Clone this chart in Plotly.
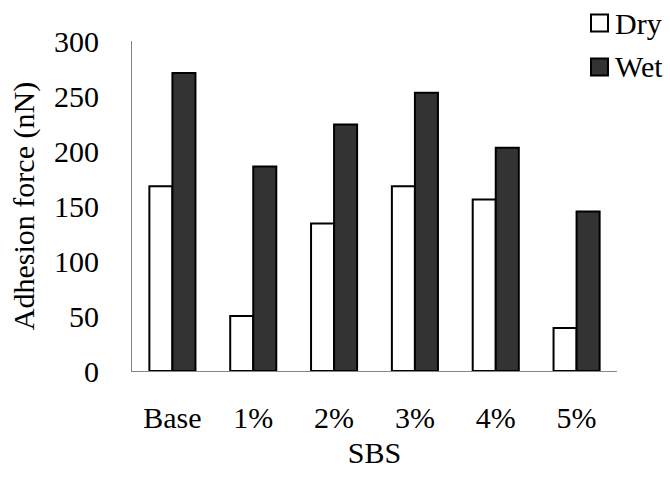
import plotly.graph_objects as go

categories = ["Base", "1%", "2%", "3%", "4%", "5%"]
dry = [168, 50, 134, 168, 156, 39]
wet = [271, 186, 224, 253, 203, 145]
y_ticks = [0, 50, 100, 150, 200, 250, 300]

series_names = ["Dry", "Wet"]
series_fills = ["white", "#333333"]

FONT = "Liberation Serif, serif"
font30 = dict(family=FONT, size=30, color="black")

W, H = 670, 481
M = dict(l=132, r=53, t=41, b=110)
plot_w = W - M["l"] - M["r"]
plot_h = H - M["t"] - M["b"]


def px_to_paper(px, py):
    """Convert page pixels (from top-left) to paper coordinates."""
    return (px - M["l"]) / plot_w, (H - M["b"] - py) / plot_h


fig = go.Figure()
for name, vals, fill in zip(series_names, [dry, wet], series_fills):
    fig.add_trace(go.Bar(
        x=categories, y=vals, name=name,
        marker=dict(color=fill, line=dict(color="black", width=2)),
    ))

# legend drawn as swatches + labels in the upper-right corner
legend_rows_y = [23, 67]
for name, fill, cy in zip(series_names, series_fills, legend_rows_y):
    x0, y0 = px_to_paper(591, cy + 8.5)
    x1, y1 = px_to_paper(608, cy - 8.5)
    fig.add_shape(type="rect", xref="paper", yref="paper",
                  x0=x0, y0=y0, x1=x1, y1=y1,
                  fillcolor=fill, line=dict(color="black", width=2))
    tx, ty = px_to_paper(613, cy)
    fig.add_annotation(text=name, xref="paper", yref="paper", x=tx, y=ty,
                       xanchor="left", yanchor="middle", showarrow=False,
                       font=font30)

fig.update_layout(
    width=W, height=H,
    margin=dict(**M, autoexpand=False),
    paper_bgcolor="white", plot_bgcolor="white",
    font=font30,
    barmode="group", bargap=0.43, bargroupgap=0,
    showlegend=False,
    xaxis=dict(
        type="category",
        title=dict(text="SBS", standoff=8, font=font30),
        tickfont=font30,
        showline=True, linecolor="#868686", linewidth=1,
        ticks="", ticklabelstandoff=20,
        range=[-0.5, 5.5], showgrid=False, zeroline=False,
    ),
    yaxis=dict(
        title=dict(text="Adhesion force (nN)", standoff=10, font=font30),
        tickfont=font30,
        showline=True, linecolor="#868686", linewidth=1,
        ticks="", ticklabelstandoff=26,
        range=[0, 300], tickvals=y_ticks, showgrid=False, zeroline=False,
    ),
)

fig.write_html("out.html")
